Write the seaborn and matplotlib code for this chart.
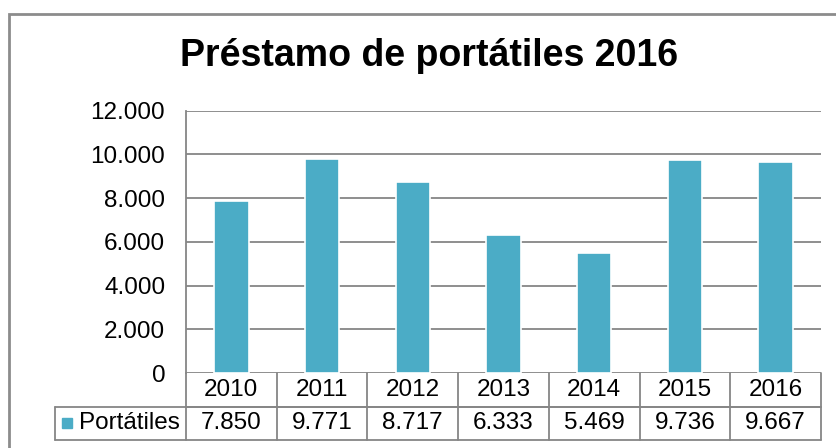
import matplotlib
matplotlib.use("Agg")
import matplotlib.pyplot as plt
from matplotlib.patches import Rectangle
import matplotlib.transforms as mtransforms
import seaborn as sns
import pandas as pd

# ── Data ──────────────────────────────────────────────────────────────────────
years = ["2010", "2011", "2012", "2013", "2014", "2015", "2016"]
portatiles = [7850, 9771, 8717, 6333, 5469, 9736, 9667]
series_name = "Portátiles"
title = "Préstamo de portátiles 2016"
y_ticks = [0, 2000, 4000, 6000, 8000, 10000, 12000]

BAR = "#4BACC6"
GRID = "#868686"
FS = 17.5


def fmt(v):
    # Spanish thousands separator
    return f"{v:,}".replace(",", ".")


sns.set_theme(style="white")
plt.rcParams["font.family"] = ["Liberation Sans", "DejaVu Sans"]
plt.rcParams["text.color"] = "black"

W, H = 837, 448
fig = plt.figure(figsize=(W / 100, H / 100), dpi=100)

# plot area in pixels
left, right, top, bottom = 186, 821, 110.7, 373
ax = fig.add_axes([left / W, 1 - bottom / H, (right - left) / W, (bottom - top) / H])

df = pd.DataFrame({"year": years, "value": portatiles})
sns.barplot(data=df, x="year", y="value", color=BAR, width=0.38,
            edgecolor="white", linewidth=1.2, saturation=1, ax=ax, zorder=3)

ax.set_ylim(0, 12000)
ax.set_xlim(-0.5, len(years) - 0.5)
ax.set_yticks(y_ticks)
ax.set_yticklabels([fmt(t) for t in y_ticks], fontsize=FS, color="black")
ax.tick_params(axis="y", length=0, pad=15)
ax.set_xticks([])
ax.set_xlabel("")
ax.set_ylabel("")
for t in y_ticks:
    ax.axhline(t, color=GRID, linewidth=1.3, zorder=1)
for s in ["top", "right", "bottom"]:
    ax.spines[s].set_visible(False)
ax.spines["left"].set_color(GRID)
ax.spines["left"].set_linewidth(1.3)

# ── Data table below the axis ────────────────────────────────────────────────
trans = mtransforms.blended_transform_factory(ax.transData, ax.transAxes)
row_h = 33.5 / (bottom - top)
px_per_unit = (right - left) / len(years)
label_left = -0.5 - (left - 55) / px_per_unit
n = len(years)
lw = 1.3

# horizontal lines
ax.plot([-0.5, n - 0.5], [-row_h, -row_h], color=GRID, lw=lw, transform=trans, clip_on=False)
ax.plot([label_left, n - 0.5], [-row_h, -row_h], color=GRID, lw=lw, transform=trans, clip_on=False)
ax.plot([label_left, n - 0.5], [-2 * row_h, -2 * row_h], color=GRID, lw=lw, transform=trans, clip_on=False)
# vertical lines
for i in range(n + 1):
    ax.plot([i - 0.5, i - 0.5], [0, -2 * row_h], color=GRID, lw=lw, transform=trans, clip_on=False)
ax.plot([label_left, label_left], [-row_h, -2 * row_h], color=GRID, lw=lw, transform=trans, clip_on=False)

for i, (yr, v) in enumerate(zip(years, portatiles)):
    ax.text(i, -0.5 * row_h, yr, ha="center", va="center", fontsize=FS, transform=trans)
    ax.text(i, -1.5 * row_h, fmt(v), ha="center", va="center", fontsize=FS, transform=trans)

ax.text(label_left + 0.26, -1.5 * row_h, series_name, ha="left", va="center",
        fontsize=FS, transform=trans)
ax.plot([label_left + 0.135], [-1.5 * row_h], marker="s", markersize=7.5, color=BAR,
        transform=trans, clip_on=False)

# ── Title and chart frame ─────────────────────────────────────────────────────
fig.text(429 / W, 1 - 56 / H, title, ha="center", va="center",
         fontsize=27, fontweight="bold", color="black")
fig.add_artist(Rectangle((9 / W, -0.05), 1.2, 1 - 14 / H + 0.05, transform=fig.transFigure,
                         fill=False, edgecolor="#8c8c8c", linewidth=2))

fig.savefig("out.png", dpi=100)
